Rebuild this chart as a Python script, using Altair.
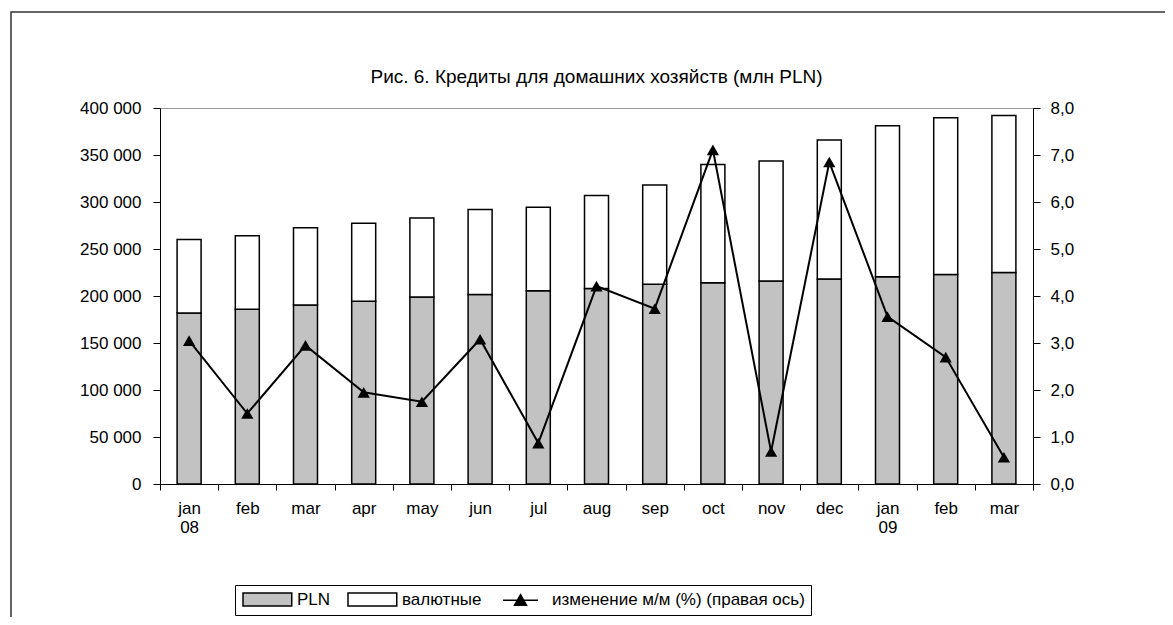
import altair as alt
import pandas as pd

# ---- data ----
months = ["jan", "feb", "mar", "apr", "may", "jun", "jul", "aug", "sep", "oct", "nov", "dec", "jan", "feb", "mar"]
years = ["08", "08", "08", "08", "08", "08", "08", "08", "08", "08", "08", "08", "09", "09", "09"]
pln = [182000, 186000, 190500, 194500, 199000, 201500, 205500, 208000, 212500, 214000, 216000, 218000, 220500, 223000, 225000]
fx = [78000, 78000, 82000, 83000, 84000, 90500, 89000, 99000, 105500, 126000, 127500, 148000, 160500, 166500, 167000]
change = [3.05, 1.50, 2.95, 1.95, 1.75, 3.08, 0.87, 4.21, 3.73, 7.11, 0.69, 6.85, 3.56, 2.70, 0.57]
series_names = ["PLN", "валютные", "изменение м/м (%) (правая ось)"]
title_text = "Рис. 6. Кредиты для домашних хозяйств (млн PLN)"

keys = [m + " " + y for m, y in zip(months, years)]

bars_df = pd.DataFrame(
    [{"key": k, "series": series_names[0], "value": v, "ord": 0} for k, v in zip(keys, pln)]
    + [{"key": k, "series": series_names[1], "value": v, "ord": 1} for k, v in zip(keys, fx)]
)
line_df = pd.DataFrame({"key": keys, "pct": change})
legend_df = pd.DataFrame({"series": series_names})
frame_df = pd.DataFrame({"a": [0]})

FONT = "Liberation Sans"
FS = 17

fill_scale = alt.Scale(domain=series_names, range=["#c2c2c2", "#ffffff", "#000000"])
stroke_scale = alt.Scale(domain=series_names, range=["#000000", "#000000", "#000000"])
# legend symbol shapes (unit radius = 6.5 px): wide boxes for the bars, line with triangle for the line
shape_scale = alt.Scale(
    domain=series_names,
    range=[
        "M-1,-1H6.5V1H-1Z",
        "M-1,-1H6.5V1H-1Z",
        "M-0.23,0H5.15M2.46,-0.85L3.38,0.75H1.54Z",
    ],
)

x_enc = alt.X(
    "key:N",
    sort=keys,
    title=None,
    scale=alt.Scale(paddingInner=0, paddingOuter=0),
    axis=alt.Axis(
        labelExpr="isValid(datum.value) ? (split(datum.value, ' ')[0] == 'jan' ? split(datum.value, ' ') : split(datum.value, ' ')[0]) : ''",
        tickBand="extent",
        labelAngle=0,
        tickSize=6,
        labelPadding=10,
        labelLineHeight=19,
        domainColor="black",
        tickColor="black",
        labelColor="black",
        labelFont=FONT,
        labelFontSize=FS,
        grid=False,
    ),
)

bars = alt.Chart(bars_df).mark_bar(size=24, stroke="black", strokeWidth=1.5).encode(
    x=x_enc,
    y=alt.Y(
        "value:Q",
        stack="zero",
        title=None,
        scale=alt.Scale(domain=[0, 400000], nice=False),
        axis=alt.Axis(
            values=list(range(0, 400001, 50000)),
            format=",d",
            tickSize=7,
            labelPadding=12,
            domainColor="black",
            tickColor="black",
            labelColor="black",
            labelFont=FONT,
            labelFontSize=FS,
            grid=False,
        ),
    ),
    fill=alt.Fill("series:N", scale=fill_scale, legend=None),
    order=alt.Order("ord:Q"),
)

right_axis = alt.Axis(
    orient="right",
    values=list(range(0, 9)),
    format=".1f",
    tickSize=7,
    labelPadding=10,
    domainColor="black",
    tickColor="black",
    labelColor="black",
    labelFont=FONT,
    labelFontSize=FS,
    grid=False,
)
y2_scale = alt.Scale(domain=[0, 8], nice=False)

line = alt.Chart(line_df).mark_line(color="black", strokeWidth=2).encode(
    x=alt.X("key:N", sort=keys),
    y=alt.Y("pct:Q", scale=y2_scale, title=None, axis=right_axis),
)
pts = alt.Chart(line_df).mark_point(shape="triangle-up", filled=True, color="black", size=150, opacity=1).encode(
    x=alt.X("key:N", sort=keys),
    y=alt.Y("pct:Q", scale=y2_scale, title=None),
)
line_layer = alt.layer(line, pts)

leg = alt.Legend(
    orient="none",
    legendX=75,
    legendY=477,
    direction="horizontal",
    labelFont=FONT,
    labelFontSize=FS,
    labelColor="black",
    labelLimit=600,
    symbolSize=169,
    symbolOpacity=1,
    symbolStrokeWidth=1.5,
    strokeColor="black",
    fillColor="white",
    padding=6,
    columnPadding=14,
    labelOffset=39,
)
legend_layer = alt.Chart(legend_df).mark_point(
    filled=True, strokeWidth=1.5, size=10, opacity=0
).encode(
    x=alt.value(10),
    y=alt.value(10),
    fill=alt.Fill("series:N", scale=fill_scale, title=None, legend=leg),
    stroke=alt.Stroke("series:N", scale=stroke_scale, title=None, legend=leg),
    shape=alt.Shape("series:N", scale=shape_scale, title=None, legend=leg),
)

frame = alt.Chart(frame_df).mark_rect(filled=False, stroke="#333333", strokeWidth=1.5).encode(
    x=alt.value(-149),
    x2=alt.value(1200),
    y=alt.value(-96),
    y2=alt.value(800),
)

chart = (
    alt.layer(frame, legend_layer, bars, line_layer)
    .resolve_scale(y="independent")
    .properties(
        width=873,
        height=376,
        autosize=alt.AutoSizeParams(type="none"),
        padding={"left": 152, "top": 100, "right": 132, "bottom": 133},
        title=alt.TitleParams(
            title_text, font=FONT, fontSize=19, fontWeight="normal", color="black",
            anchor="middle", frame="group", offset=-76
        ),
    )
    .configure(
        locale={"number": {"decimal": ",", "thousands": " ", "grouping": [3], "currency": ["", ""]}},
        background="white",
    )
    .configure_view(stroke="#9a9a9a", strokeWidth=1)
)

chart.save("out.html", embed_options={"renderer": "svg", "actions": False})
